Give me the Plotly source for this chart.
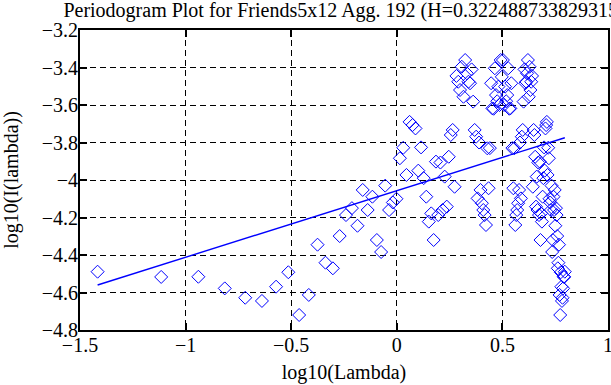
import numpy as np
import plotly.graph_objects as go

# ---- data ----
N = 164  # series length: lambda_k = 2*pi*k/N, k = 1..N-1
freq_index = list(range(1, N))

log_I = [
    -4.489, -4.517, -4.516, -4.578, -4.628, -4.645, -4.569, -4.492, -4.720, -4.613,
    -4.345, -4.441, -4.471, -4.299, -4.187, -4.150, -4.244, -4.053, -4.160, -4.089,
    -4.320, -4.384, -4.030, -4.160, -4.120, -4.100, -3.884, -3.828, -3.973, -3.690,
    -3.707, -3.725, -3.950, -3.826, -3.990, -4.089, -4.222, -4.178, -4.320, -3.902,
    -4.187, -3.907, -4.160, -3.982, -4.142, -3.876, -3.760, -3.733, -4.036, -3.445,
    -3.476, -3.520, -3.396, -3.556, -3.360, -3.431, -3.476, -3.484, -3.410, -3.582,
    -3.733, -3.769, -4.098, -3.800, -4.053, -4.124, -4.160, -4.187, -4.240, -3.831,
    -4.044, -3.830, -3.484, -3.618, -3.620, -3.404, -3.547, -3.580, -3.502, -3.600,
    -3.360,
    -3.450,
    -3.360, -3.600, -3.502, -3.580, -3.547, -3.404, -3.620, -3.618, -3.484, -3.830,
    -4.044, -3.831, -4.240, -4.187, -4.160, -4.124, -4.053, -3.800, -4.098, -3.769,
    -3.733, -3.582, -3.410, -3.484, -3.476, -3.431, -3.360, -3.556, -3.396, -3.520,
    -3.476, -3.445, -4.036, -3.733, -3.760, -3.876, -4.142, -3.982, -4.160, -3.907,
    -4.187, -3.902, -4.320, -4.178, -4.222, -4.089, -3.990, -3.826, -3.950, -3.725,
    -3.707, -3.690, -3.973, -3.828, -3.884, -4.100, -4.120, -4.160, -4.030, -4.384,
    -4.320, -4.089, -4.160, -4.053, -4.244, -4.150, -4.187, -4.299, -4.471, -4.441,
    -4.345, -4.613, -4.720, -4.492, -4.569, -4.645, -4.628, -4.578, -4.516, -4.517,
    -4.489,
]

H = 0.322488733829315
fit_slope = 1 - 2 * H
fit_intercept = -4.057

x_tick_vals = [-1.5, -1, -0.5, 0, 0.5, 1]
x_tick_text = ["\u22121.5", "\u22121", "\u22120.5", "0", "0.5", "1"]
y_tick_vals = [-3.2, -3.4, -3.6, -3.8, -4.0, -4.2, -4.4, -4.6, -4.8]
y_tick_text = ["\u22123.2", "\u22123.4", "\u22123.6", "\u22123.8", "\u22124",
               "\u22124.2", "\u22124.4", "\u22124.6", "\u22124.8"]

title_text = "Periodogram Plot for Friends5x12 Agg. 192 (H=0.322488733829315)"

# ---- derived ----
log_lambda = np.log10(2 * np.pi * np.array(freq_index) / N)
fit_x = np.array([log_lambda.min(), log_lambda.max()])
fit_y = fit_intercept + fit_slope * fit_x

FONT = "'Liberation Serif', 'Times New Roman', Times, serif"
BLUE = "#0000ff"

fig = go.Figure()
fig.add_trace(go.Scatter(
    x=log_lambda, y=log_I, mode="markers",
    marker=dict(symbol="diamond-open", size=10, color=BLUE, line=dict(width=1, color=BLUE)),
    showlegend=False, cliponaxis=False,
))
fig.add_trace(go.Scatter(
    x=fit_x, y=fit_y, mode="lines",
    line=dict(color=BLUE, width=1.4),
    showlegend=False,
))

axis_common = dict(
    showline=True, linecolor="black", linewidth=2, mirror="ticks",
    ticks="inside", ticklen=7, tickwidth=1.5, tickcolor="black",
    showgrid=True, gridcolor="black", gridwidth=1, griddash="6px,4px",
    zeroline=False, automargin=False, ticklabeloverflow="allow",
    tickfont=dict(family=FONT, size=20, color="black"),
)

fig.update_xaxes(
    range=[-1.5, 1], tickvals=x_tick_vals, ticktext=x_tick_text,
    title=dict(text="log10(Lambda)", font=dict(family=FONT, size=20, color="black"), standoff=10),
    ticklabelstandoff=-4,
    **axis_common,
)
fig.update_yaxes(
    range=[-4.8, -3.2], tickvals=y_tick_vals, ticktext=y_tick_text,
    title=dict(text="log10(I(lambda))", font=dict(family=FONT, size=20, color="black"), standoff=23),
    ticklabelstandoff=-4,
    **axis_common,
)

fig.update_layout(
    width=611, height=385,
    margin=dict(l=80, r=3, t=30, b=55, autoexpand=False),
    paper_bgcolor="white", plot_bgcolor="white",
    title=dict(text=title_text, x=0.5, xref="paper", xanchor="center",
               y=1 - 10 / 385, yref="container", yanchor="middle", automargin=False,
               font=dict(family=FONT, size=20, color="black")),
    font=dict(family=FONT, size=20, color="black"),
    hovermode=False,
)

fig.write_html(
    "out.html",
    config={"displayModeBar": False},
    post_script="document.body.style.margin='0';document.body.style.padding='0';",
)
